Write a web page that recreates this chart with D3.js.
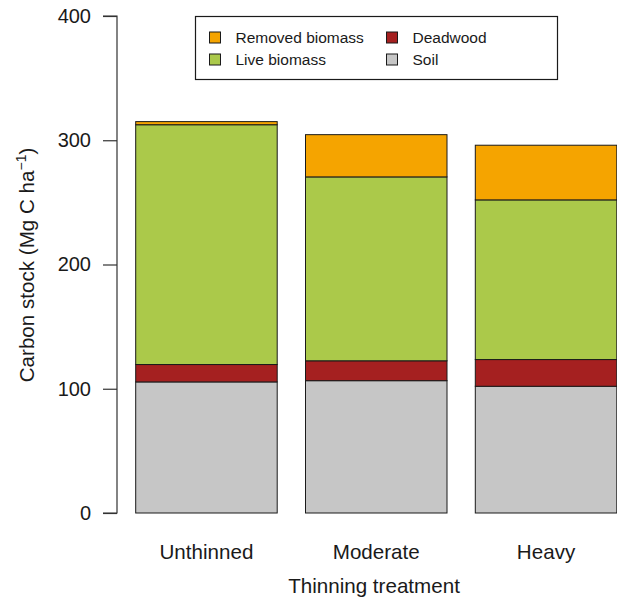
<!DOCTYPE html>
<html>
<head>
<meta charset="utf-8">
<script src="https://cdn.jsdelivr.net/npm/d3@7"></script>
<style>
  body { margin: 0; background: #fff; }
  text { font-family: "Liberation Sans", Arial, Helvetica, sans-serif; fill: #1a1a1a; }
</style>
</head>
<body>
<svg id="chart" width="617" height="601"></svg>
<script>
let width = 617, height = 601

// data (Mg C per ha)
let treatments = ["Unthinned", "Moderate", "Heavy"]
let soil = [105.5, 106.5, 102]
let deadwood = [14, 16, 21.5]
let liveBiomass = [193, 148, 128.5]
let removedBiomass = [2.5, 34, 44]
let yTicks = [0, 100, 200, 300, 400]

let layers = ["Soil", "Deadwood", "Live biomass", "Removed biomass"]
let layerValues = [soil, deadwood, liveBiomass, removedBiomass]
let colors = { "Soil": "#c6c6c6", "Deadwood": "#a52020", "Live biomass": "#abc94a", "Removed biomass": "#f5a400" }

let svg = d3.select("#chart")

let x = d3.scaleBand()
    .domain(treatments)
    .range([135.7, 616.8])
    .paddingInner(1 / 6)
    .paddingOuter(0)

let y = d3.scaleLinear()
    .domain([0, 400])
    .range([513, 16])

// build table for stacking
let table = treatments.map(function (t, i) {
  let row = { treatment: t }
  layers.forEach(function (l, j) { row[l] = layerValues[j][i] })
  return row
})

let stacked = d3.stack().keys(layers)(table)

svg.append("g")
  .selectAll("g")
  .data(stacked)
  .join("g")
  .style("fill", d => colors[d.key])
  .selectAll("rect")
  .data(d => d)
  .join("rect")
  .attr("x", d => x(d.data.treatment))
  .attr("width", x.bandwidth())
  .attr("y", d => y(d[1]))
  .attr("height", d => y(d[0]) - y(d[1]))
  .style("stroke", "#1a1a1a")
  .style("stroke-width", "1px")

// y axis
let yAxis = svg.append("g")
  .attr("transform", "translate(117,0)")
  .call(d3.axisLeft(y).tickValues(yTicks).tickSize(14).tickPadding(12))

yAxis.selectAll("path, line").style("stroke", "#333").style("stroke-width", "1.2px")
yAxis.select(".domain").attr("d", `M-14,${y(400)}H0V${y(0)}H-14`).style("fill", "none")
yAxis.selectAll("text")
  .style("font-family", "'Liberation Sans', Arial, sans-serif")
  .style("font-size", "20px")
  .style("fill", "#1a1a1a")

// category labels
svg.append("g")
  .selectAll("text")
  .data(treatments)
  .join("text")
  .attr("x", d => x(d) + x.bandwidth() / 2)
  .attr("y", 559)
  .attr("text-anchor", "middle")
  .style("font-size", "20.6px")
  .text(d => d)

// x axis title
svg.append("text")
  .attr("x", 374)
  .attr("y", 593)
  .attr("text-anchor", "middle")
  .style("font-size", "20.6px")
  .text("Thinning treatment")

// y axis title
let ytitle = svg.append("text")
  .attr("transform", "translate(34,265) rotate(-90)")
  .attr("text-anchor", "middle")
  .style("font-size", "20.6px")
ytitle.append("tspan").text("Carbon stock (Mg C ha")
ytitle.append("tspan").attr("dy", "-8").style("font-size", "14px").text("\u22121")
ytitle.append("tspan").attr("dy", "8").text(")")

// legend
let legend = svg.append("g")
legend.append("rect")
  .attr("x", 195.5).attr("y", 16.5)
  .attr("width", 362).attr("height", 63)
  .style("fill", "#fff")
  .style("stroke", "#1a1a1a")
  .style("stroke-width", "1.2px")

let legendItems = [
  { name: "Removed biomass", col: 0, row: 0 },
  { name: "Deadwood", col: 1, row: 0 },
  { name: "Live biomass", col: 0, row: 1 },
  { name: "Soil", col: 1, row: 1 }
]

let item = legend.selectAll(".item")
  .data(legendItems)
  .join("g")
  .attr("class", "item")
  .attr("transform", d => `translate(${209.5 + d.col * 177},${37.5 + d.row * 22})`)

item.append("rect")
  .attr("x", 0).attr("y", -5.5)
  .attr("width", 11).attr("height", 11)
  .style("fill", d => colors[d.name])
  .style("stroke", "#1a1a1a")
  .style("stroke-width", "1px")

item.append("text")
  .attr("x", 26)
  .attr("y", 5.5)
  .style("font-size", "15.5px")
  .text(d => d.name)
</script>
</body>
</html>
